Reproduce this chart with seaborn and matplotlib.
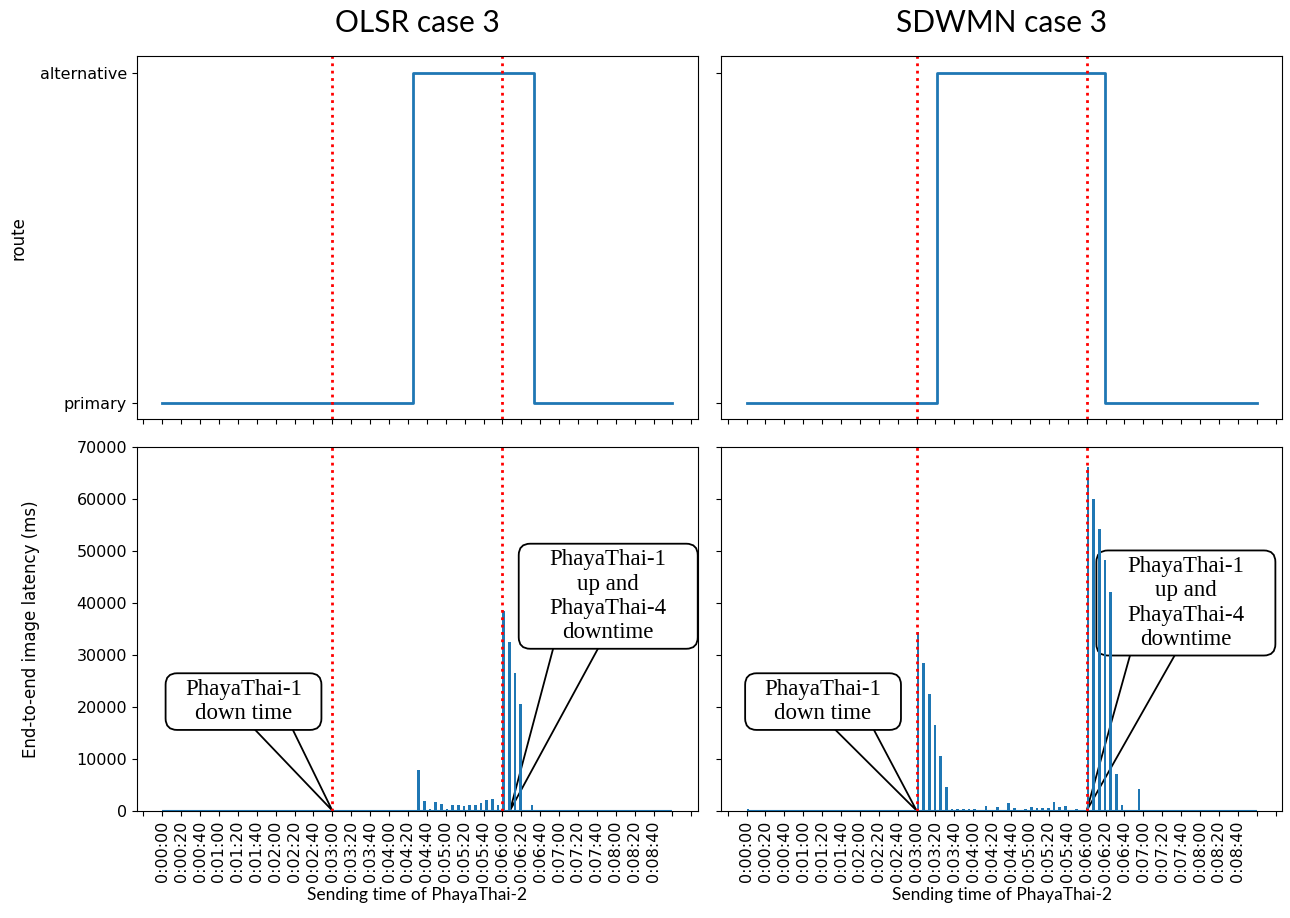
import numpy as np
import pandas as pd
import seaborn as sns
import matplotlib.pyplot as plt
from matplotlib.patches import BoxStyle

# time axis (seconds after start of PhayaThai-2 sending)
t_start, t_end = 0, 540
event_times = [180, 360]
tick_secs = list(range(-20, 580, 20))

route_levels = ['primary', 'alternative']

# route switches
olsr_route_times = [0, 265, 393, 540]
olsr_route = ['primary', 'alternative', 'primary', 'primary']
sdwmn_route_times = [0, 202, 379, 540]
sdwmn_route = ['primary', 'alternative', 'primary', 'primary']

# end-to-end latency (ms), non-zero samples only
olsr_lat_times = [270, 276, 282, 288, 294, 300, 306, 312, 318, 324, 330, 336, 342, 348, 354,
                  360, 366, 372, 378, 390]
olsr_lat = [7900, 1900, 300, 1700, 1300, 300, 1000, 1100, 900, 1000, 1000, 1400, 2100, 2200, 1000,
            38500, 32500, 26500, 20500, 1000]

sdwmn_lat_times = [0, 180, 186, 192, 198, 204, 210, 216, 222, 228, 234, 240, 246, 252, 258, 264,
                   276, 282, 294, 300, 306, 312, 318, 324, 330, 336, 348, 354,
                   360, 366, 372, 378, 384, 390, 396, 414]
sdwmn_lat = [300, 34400, 28500, 22400, 16500, 10600, 4500, 400, 300, 400, 400, 400, 100, 800, 200, 600,
             1500, 500, 400, 600, 500, 500, 500, 1600, 600, 800, 400, 200,
             66200, 60100, 54200, 48200, 42200, 7000, 1000, 4200]

# callouts: (text, point, text position)
olsr_notes = [('PhayaThai-1\ndown time', (180, 0), (86, 21000)),
              ('PhayaThai-1\nup and\nPhayaThai-4\ndowntime', (368, 0), (472, 41300))]
sdwmn_notes = [('PhayaThai-1\ndown time', (180, 0), (81, 21000)),
               ('PhayaThai-1\nup and\nPhayaThai-4\ndowntime', (360, 0), (465, 40000))]
# wedge width, wedge origin and extra side padding for the small / big callout
wedge_widths = [1.8, 2.4]
wedge_relpos = [(0.61, 0.5), (0.39, 0.5)]
side_pads = [0.6, 1.1]

blue = '#1f77b4'


def fmt_time(s):
    if s < 0 or s > 520:
        return ''
    return '%d:%02d:%02d' % (s // 3600, (s % 3600) // 60, s % 60)


def callout_box(extra):
    base = BoxStyle('Round', pad=0.25, rounding_size=0.5)

    def style(x0, y0, width, height, mutation_size):
        e = extra * mutation_size
        return base(x0 - e, y0, width + 2 * e, height, mutation_size)
    return style


panels = [('OLSR case 3', olsr_route_times, olsr_route, olsr_lat_times, olsr_lat, olsr_notes),
          ('SDWMN case 3', sdwmn_route_times, sdwmn_route, sdwmn_lat_times, sdwmn_lat, sdwmn_notes)]

fig, axes = plt.subplots(2, 2, figsize=(12.9, 9.18), dpi=100, sharex=True, sharey='row')
fig.subplots_adjust(left=0.106, right=0.994, top=0.939, bottom=0.117, wspace=0.041, hspace=0.077)

for col, (title, r_times, r_vals, l_times, l_vals, notes) in enumerate(panels):
    ax_top = axes[0, col]
    ax_bot = axes[1, col]

    route_df = pd.DataFrame({'time': r_times,
                             'route': [route_levels.index(r) for r in r_vals]})
    sns.lineplot(data=route_df, x='time', y='route', ax=ax_top, color=blue,
                 linewidth=2, drawstyle='steps-post')
    ax_top.set_title(title, fontsize=21.5, family='Lato', pad=17)
    ax_top.set_xlabel('')
    ax_top.set_ylabel('')

    ax_bot.bar(l_times, l_vals, width=2.8, align='edge', color=blue, linewidth=0, zorder=2)
    ax_bot.hlines(0, t_start, t_end, color=blue, linewidth=1.5, zorder=2)

    for ax in (ax_top, ax_bot):
        for t in event_times:
            ax.axvline(t, color='red', linestyle=':', linewidth=2, zorder=2.5)

    # callouts sit underneath the bars, like pasted shapes
    for i, (text, xy, xytext) in enumerate(notes):
        ax_bot.annotate(text, xy=xy, xytext=xytext, ha='center', va='center',
                        fontsize=16.5, family='Liberation Serif', zorder=1,
                        bbox=dict(boxstyle=callout_box(side_pads[i]), fc='white', ec='black', lw=1.3),
                        arrowprops=dict(arrowstyle='wedge,tail_width=%.2f' % wedge_widths[i],
                                        fc='white', ec='black', lw=1.3, relpos=wedge_relpos[i],
                                        patchA=None, shrinkA=0, shrinkB=0))

    ax_bot.set_xlabel('Sending time of PhayaThai-2', fontsize=12.5, family='Lato')

axes[0, 0].set_yticks([0, 1])
axes[0, 0].set_yticklabels(route_levels)
axes[0, 0].set_ylim(-0.05, 1.05)
axes[0, 0].set_ylabel('route', fontsize=12, labelpad=9)
axes[1, 0].set_ylim(0, 70000)
axes[1, 0].set_ylabel('End-to-end image latency (ms)', fontsize=12, labelpad=26)

axes[1, 0].set_xlim(-27, 567)
for ax in axes[1]:
    ax.set_xticks(tick_secs)
    ax.set_xticklabels([fmt_time(s) for s in tick_secs], rotation=90)

for ax in axes.flat:
    ax.tick_params(labelsize=11.5)

fig.savefig('out.png', dpi=100)
